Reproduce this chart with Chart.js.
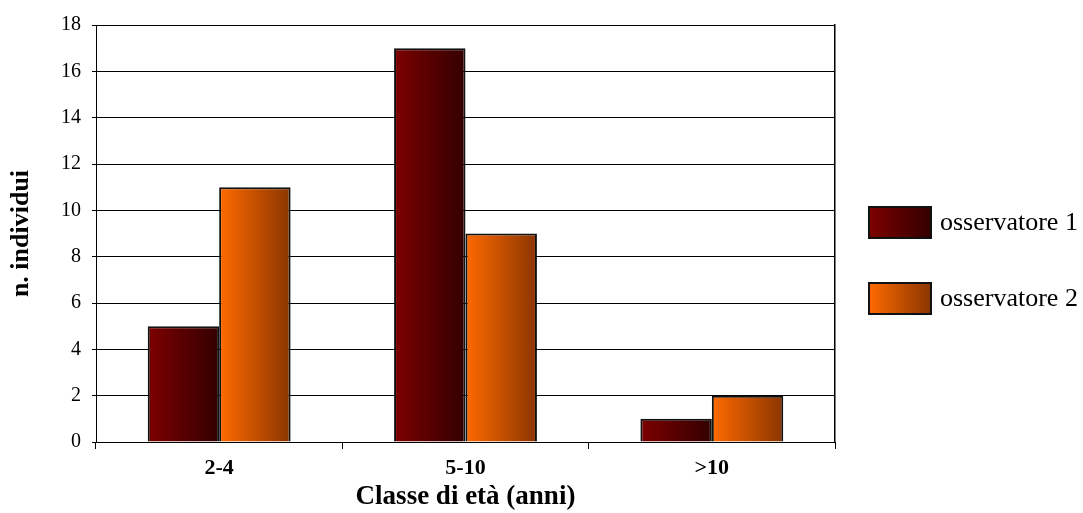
<!DOCTYPE html>
<html>
<head>
<meta charset="utf-8">
<script src="https://cdn.jsdelivr.net/npm/chart.js@4.4.1/dist/chart.umd.min.js"></script>
<style>
  html, body { margin: 0; padding: 0; background: #fff; }
  #wrap { width: 1083px; height: 513px; }
</style>
</head>
<body>
<div id="wrap"><canvas id="myChart" width="1083" height="513"></canvas></div>
<script>
// values
var categories = ['2-4', '5-10', '>10'];
var observer1 = [5, 17, 1];
var observer2 = [11, 9, 2];
var seriesNames = ['osservatore 1', 'osservatore 2'];
var yTicks = [0, 2, 4, 6, 8, 10, 12, 14, 16, 18];

var serif = "'Liberation Serif', 'Times New Roman', serif";

// left -> right colour stops for each series
var gradientStops = [
    ['#7d0000', '#330000'],
    ['#ff6a00', '#8a3500']
];

function makeGradient(ctx, x0, x1, stops) {
    var g = ctx.createLinearGradient(x0, 0, x1, 0);
    g.addColorStop(0, stops[0]);
    g.addColorStop(1, stops[1]);
    return g;
}

// every bar gets its own horizontal gradient
var barGradients = {
    id: 'barGradients',
    beforeDatasetsDraw: function(chart) {
        var ctx = chart.ctx;
        chart.data.datasets.forEach(function(ds, i) {
            var meta = chart.getDatasetMeta(i);
            meta.data.forEach(function(bar) {
                var p = bar.getProps(['x', 'width'], true);
                var opts = Object.assign({}, bar.options);
                opts.backgroundColor = makeGradient(ctx, p.x - p.width / 2, p.x + p.width / 2, gradientStops[i]);
                bar.options = opts;
            });
        });
    }
};

// legend on the right, spaced like the original
var sideLegend = {
    id: 'sideLegend',
    afterDraw: function(chart) {
        var ctx = chart.ctx;
        ctx.save();
        chart.data.datasets.forEach(function(ds, i) {
            var bx = 869, by = 207 + i * 76, bw = 62, bh = 31;
            ctx.fillStyle = makeGradient(ctx, bx, bx + bw, gradientStops[i]);
            ctx.fillRect(bx, by, bw, bh);
            ctx.lineWidth = 2;
            ctx.strokeStyle = '#111';
            ctx.strokeRect(bx, by, bw, bh);
            ctx.fillStyle = '#000';
            ctx.font = '26px ' + serif;
            ctx.textBaseline = 'middle';
            ctx.textAlign = 'left';
            ctx.fillText(ds.label, 940, by + bh / 2 + 1);
        });
        ctx.restore();
    }
};

function createChart() {
    var ctx = document.getElementById('myChart').getContext('2d');

    var data = {
        labels: categories,
        datasets: [
            {
                label: seriesNames[0],
                data: observer1,
                backgroundColor: gradientStops[0][0],
                borderColor: '#111',
                borderWidth: 2
            },
            {
                label: seriesNames[1],
                data: observer2,
                backgroundColor: gradientStops[1][0],
                borderColor: '#111',
                borderWidth: 2
            }
        ]
    };

    return new Chart(ctx, {
        type: 'bar',
        data: data,
        plugins: [barGradients, sideLegend],
        options: {
            responsive: false,
            animation: false,
            layout: { padding: { top: 25, right: 248, bottom: 0, left: 0 } },
            datasets: {
                bar: { categoryPercentage: 0.58, barPercentage: 1.0 }
            },
            plugins: {
                legend: { display: false },
                tooltip: { enabled: false }
            },
            scales: {
                x: {
                    afterFit: function(scale) { scale.height = 71; },
                    grid: {
                        display: true,
                        drawOnChartArea: false,
                        drawTicks: true,
                        tickLength: 7,
                        color: '#000',
                        lineWidth: 1
                    },
                    border: { display: true, color: '#000', width: 1 },
                    ticks: {
                        color: '#000',
                        padding: 6,
                        font: { family: serif, size: 22, weight: 'bold' }
                    },
                    title: {
                        display: true,
                        text: 'Classe di età (anni)',
                        color: '#000',
                        padding: { top: 0, bottom: 0 },
                        font: { family: serif, size: 27, weight: 'bold' }
                    }
                },
                y: {
                    min: yTicks[0],
                    max: yTicks[yTicks.length - 1],
                    afterFit: function(scale) { scale.width = 96; },
                    afterBuildTicks: function(scale) {
                        scale.ticks = yTicks.map(function(v) { return { value: v }; });
                    },
                    grid: {
                        color: '#000',
                        lineWidth: 1,
                        drawTicks: true,
                        tickLength: 4
                    },
                    border: { display: true, color: '#000', width: 1 },
                    ticks: {
                        color: '#000',
                        padding: 11,
                        font: { family: serif, size: 20 }
                    },
                    title: {
                        display: true,
                        text: 'n. individui',
                        color: '#000',
                        padding: { top: 6, bottom: 0 },
                        font: { family: serif, size: 26, weight: 'bold' }
                    }
                },
                // plain right edge of the plot frame
                yRight: {
                    position: 'right',
                    afterFit: function(scale) { scale.width = 0; },
                    grid: { display: false, drawTicks: false },
                    ticks: { display: false },
                    border: { display: true, color: '#000', width: 1.5 }
                }
            }
        }
    });
}

var myChart = createChart();
</script>
</body>
</html>
